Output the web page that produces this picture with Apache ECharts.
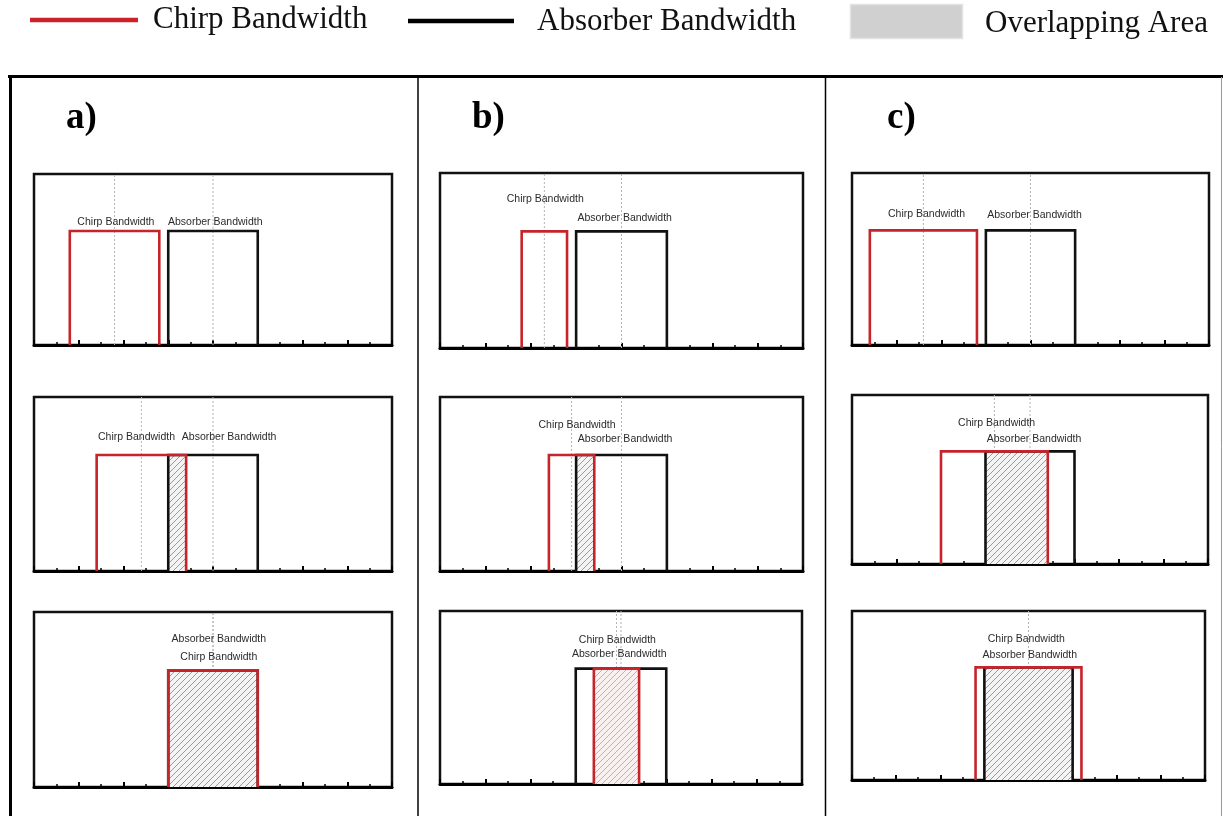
<!DOCTYPE html>
<html>
<head>
<meta charset="utf-8">
<title>Chirp vs absorber bandwidth</title>
<script src="https://cdn.jsdelivr.net/npm/echarts@6/dist/echarts.min.js"></script>
<style>
  html, body { margin: 0; padding: 0; background: #fff; }
  #chart { width: 1223px; height: 816px; }
</style>
</head>
<body>
<div id="chart"></div>
<script>
// ---- data (frequency axis in arbitrary units, 0..8) ----
const columnTags = ['a)', 'b)', 'c)'];
const seriesNames = ['Chirp Bandwidth', 'Absorber Bandwidth', 'Overlapping Area'];
// panels in order a1, a2, a3, b1, b2, b3, c1, c2, c3
const chirpBands = [
  [0.8, 2.8], [1.4, 3.4], [3.0, 5.0],
  [1.8, 2.8], [2.4, 3.4], [3.4, 4.4],
  [0.4, 2.8], [2.0, 4.4], [2.8, 5.2]
];
const absorberBands = [
  [3.0, 5.0], [3.0, 5.0], [3.0, 5.0],
  [3.0, 5.0], [3.0, 5.0], [3.0, 5.0],
  [3.0, 5.0], [3.0, 5.0], [3.0, 5.0]
];
const bandLevel = 1;
// annotation anchors [x, y] in axis units
const chirpLabelAt = [
  [1.83, 1.08], [2.29, 1.15], [4.13, 1.11],
  [2.32, 1.28], [3.02, 1.26], [3.92, 1.25],
  [1.67, 1.14], [3.25, 1.25], [3.95, 1.25]
];
const absorberLabelAt = [
  [4.05, 1.08], [4.36, 1.15], [4.13, 1.27],
  [4.07, 1.11], [4.08, 1.14], [3.96, 1.13],
  [4.09, 1.13], [4.09, 1.11], [4.03, 1.11]
];
const redTintedOverlap = [5];

// ---- layout ----
const panelBoxes = [
  [34, 174, 358, 171], [34, 397, 358, 174], [34, 612, 358, 175],
  [440, 173, 363, 175], [440, 397, 363, 174], [440, 611, 362, 173],
  [852, 173, 357, 172], [852, 395, 356, 169], [852, 611, 353, 169]
];
const RED = '#c5242b';
const BLACK = '#111';
const labelFont = '10.5px "Liberation Sans", Arial, sans-serif';
const serif = '"Liberation Serif", "Times New Roman", serif';

function hatchTile(line, bg) {
  const s = 6;
  const c = document.createElement('canvas');
  c.width = s; c.height = s;
  const g = c.getContext('2d');
  g.fillStyle = bg;
  g.fillRect(0, 0, s, s);
  g.strokeStyle = line;
  g.lineWidth = 1;
  g.beginPath();
  g.moveTo(0, s); g.lineTo(s, 0);
  g.moveTo(-1, 1); g.lineTo(1, -1);
  g.moveTo(s - 1, s + 1); g.lineTo(s + 1, s - 1);
  g.stroke();
  return c;
}
const greyHatch = hatchTile('#9a9a9a', '#f4f4f4');
const redHatch = hatchTile('#d2a8a8', '#f9f0f0');

function bandOutline(stroke, z) {
  return function (params, api) {
    const x0 = api.value(0), x1 = api.value(1), h = api.value(2);
    return {
      type: 'polyline',
      z2: z,
      shape: { points: [api.coord([x0, 0]), api.coord([x0, h]), api.coord([x1, h]), api.coord([x1, 0])] },
      style: { stroke: stroke, lineWidth: 2.6, fill: null, lineJoin: 'miter' }
    };
  };
}

const grids = [], xAxes = [], yAxes = [], series = [];
panelBoxes.forEach(function (b, i) {
  grids.push({
    left: b[0], top: b[1], width: b[2], height: b[3],
    show: true, backgroundColor: '#fff', borderColor: BLACK, borderWidth: 2.5
  });
  xAxes.push({
    gridIndex: i, type: 'value', min: 0, max: 8, interval: 1,
    axisLine: { onZero: false, lineStyle: { color: '#000', width: 3 } },
    axisTick: { inside: true, length: 5, lineStyle: { color: '#000', width: 2 } },
    minorTick: { show: true, splitNumber: 2, length: 3, lineStyle: { color: '#000', width: 1.5 } },
    axisLabel: { show: false }, splitLine: { show: false }
  });
  yAxes.push({
    gridIndex: i, type: 'value', min: 0, max: 1.5, show: false,
    splitLine: { show: false }
  });

  const chirp = chirpBands[i], abs = absorberBands[i];
  const centers = [(chirp[0] + chirp[1]) / 2, (abs[0] + abs[1]) / 2];

  // dotted centre guides
  series.push({
    type: 'custom', name: 'guides', xAxisIndex: i, yAxisIndex: i, z: 1, silent: true,
    data: centers.map(function (c) { return [c]; }),
    renderItem: function (params, api) {
      const x = api.value(0);
      const a = api.coord([x, 0]), t = api.coord([x, 1.5]);
      return {
        type: 'line',
        shape: { x1: a[0], y1: a[1], x2: t[0], y2: t[1] },
        style: { stroke: '#b4b4b4', lineWidth: 1, lineDash: [2, 2] }
      };
    }
  });

  // overlap region
  const lo = Math.max(chirp[0], abs[0]), hi = Math.min(chirp[1], abs[1]);
  if (hi > lo) {
    const tile = redTintedOverlap.indexOf(i) >= 0 ? redHatch : greyHatch;
    series.push({
      type: 'custom', name: seriesNames[2], xAxisIndex: i, yAxisIndex: i, z: 2, silent: true,
      data: [[lo, hi, bandLevel]],
      renderItem: function (params, api) {
        const p0 = api.coord([api.value(0), api.value(2)]);
        const p1 = api.coord([api.value(1), 0]);
        return {
          type: 'rect',
          shape: { x: p0[0], y: p0[1], width: p1[0] - p0[0], height: p1[1] - p0[1] },
          style: { fill: { image: tile, repeat: 'repeat' } }
        };
      }
    });
  }

  series.push({
    type: 'custom', name: seriesNames[1], xAxisIndex: i, yAxisIndex: i, z: 3, silent: true,
    data: [[abs[0], abs[1], bandLevel]],
    renderItem: bandOutline(BLACK, 3)
  });
  series.push({
    type: 'custom', name: seriesNames[0], xAxisIndex: i, yAxisIndex: i, z: 4, silent: true,
    data: [[chirp[0], chirp[1], bandLevel]],
    renderItem: bandOutline(RED, 4)
  });

  // band annotations
  const notes = [
    { at: chirpLabelAt[i], text: seriesNames[0] },
    { at: absorberLabelAt[i], text: seriesNames[1] }
  ];
  series.push({
    type: 'custom', name: 'notes', xAxisIndex: i, yAxisIndex: i, z: 5, silent: true,
    data: notes.map(function (n) { return n.at; }),
    renderItem: function (params, api) {
      const p = api.coord([api.value(0), api.value(1)]);
      return {
        type: 'text', x: p[0], y: p[1],
        style: {
          text: notes[params.dataIndex].text, font: labelFont, fill: '#2b2b2b',
          align: 'center', verticalAlign: 'middle'
        }
      };
    }
  });
});

// outer frame, column dividers, panel tags and key
const graphics = [
  { type: 'line', shape: { x1: 8, y1: 76.5, x2: 1223, y2: 76.5 }, style: { stroke: '#000', lineWidth: 3 } },
  { type: 'line', shape: { x1: 10.5, y1: 75, x2: 10.5, y2: 816 }, style: { stroke: '#000', lineWidth: 3 } },
  { type: 'line', shape: { x1: 418, y1: 77, x2: 418, y2: 816 }, style: { stroke: '#000', lineWidth: 1.5 } },
  { type: 'line', shape: { x1: 825.5, y1: 77, x2: 825.5, y2: 816 }, style: { stroke: '#000', lineWidth: 1.5 } },
  { type: 'line', shape: { x1: 1221.5, y1: 77, x2: 1221.5, y2: 816 }, style: { stroke: '#999', lineWidth: 1 } },

  { type: 'line', shape: { x1: 30, y1: 20, x2: 138, y2: 20 }, style: { stroke: '#cc2229', lineWidth: 4.5 } },
  { type: 'text', x: 153, y: 20, style: { text: seriesNames[0], font: '31px ' + serif, fill: '#111', align: 'left', verticalAlign: 'middle' } },
  { type: 'line', shape: { x1: 408, y1: 21, x2: 514, y2: 21 }, style: { stroke: '#000', lineWidth: 4.5 } },
  { type: 'text', x: 537, y: 22, style: { text: seriesNames[1], font: '31px ' + serif, fill: '#111', align: 'left', verticalAlign: 'middle' } },
  { type: 'rect', shape: { x: 850.5, y: 4.5, width: 112, height: 34 }, style: { fill: '#d0d0d0', stroke: '#e3e3e3', lineWidth: 1.5 } },
  { type: 'text', x: 985, y: 24, style: { text: seriesNames[2], font: '31px ' + serif, fill: '#111', align: 'left', verticalAlign: 'middle' } }
];
const tagX = [66, 472, 887];
columnTags.forEach(function (t, k) {
  graphics.push({ type: 'text', x: tagX[k], y: 118, style: { text: t, font: 'bold 37px ' + serif, fill: '#000', align: 'left', verticalAlign: 'middle' } });
});

const chart = echarts.init(document.getElementById('chart'), null, { renderer: 'canvas' });
chart.setOption({
  backgroundColor: '#fff',
  animation: false,
  grid: grids,
  xAxis: xAxes,
  yAxis: yAxes,
  series: series,
  graphic: graphics
});
</script>
</body>
</html>
